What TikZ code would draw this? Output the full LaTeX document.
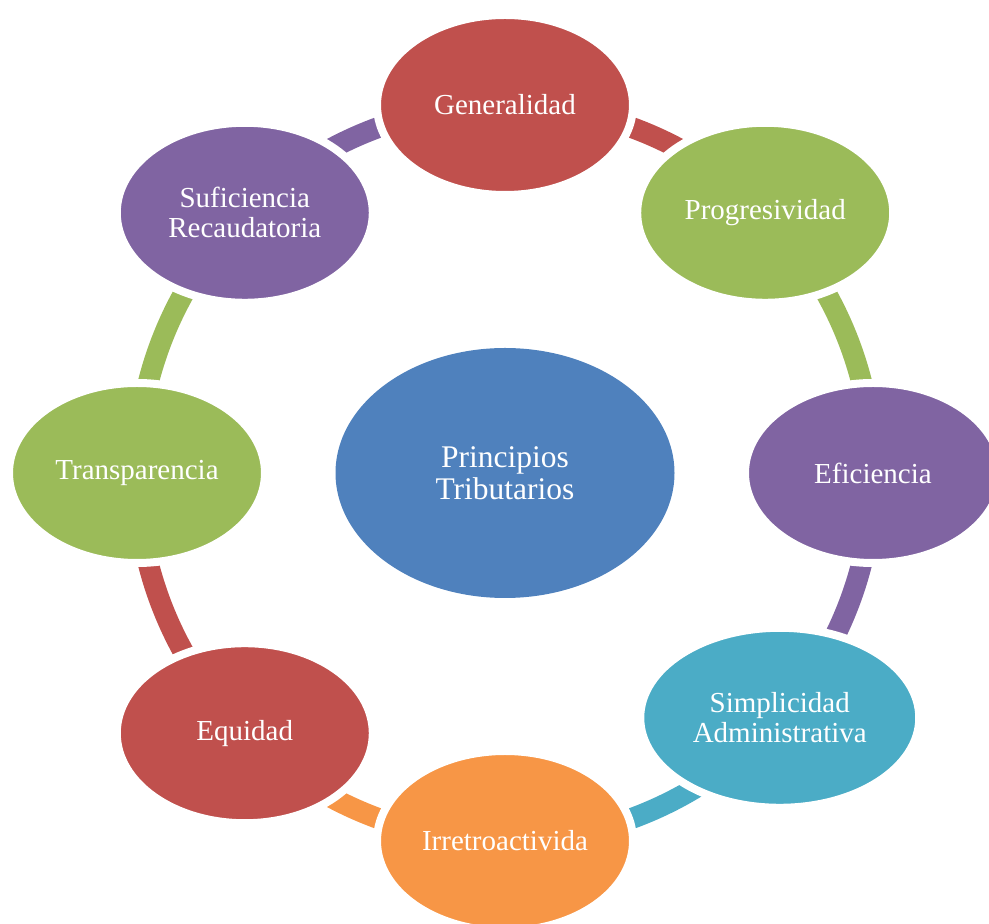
\documentclass[tikz,border=0pt]{standalone}
\usepackage{fontspec}
\setmainfont{Liberation Serif}
\usetikzlibrary{shapes.geometric,calc}
\definecolor{cred}{HTML}{C0504D}
\definecolor{cgreen}{HTML}{9BBB59}
\definecolor{cpurple}{HTML}{8064A2}
\definecolor{cteal}{HTML}{4BACC6}
\definecolor{corange}{HTML}{F79646}
\definecolor{cblue}{HTML}{4F81BD}
\begin{document}
\begin{tikzpicture}[x=1pt,y=1pt,
  item/.style={ellipse, draw=white, line width=8pt, minimum width=256pt, minimum height=180pt,
    inner sep=0pt, text=white, align=center, font=\fontsize{29}{30}\selectfont},
  band/.style={line width=21pt, line cap=butt}]
\useasboundingbox (0,0) rectangle (989,924);
\coordinate (C) at (505,451);
% nodes positions
\coordinate (pgen) at ($(C)+(90:368)$);
\coordinate (ppro) at ($(C)+(45:368)$);
\coordinate (pefi) at ($(C)+(0:368)$);
\coordinate (psim) at ($(C)+(-41.7:368)$);
\coordinate (pirr) at ($(C)+(-90:368)$);
\coordinate (pequ) at ($(C)+(-135:368)$);
\coordinate (ptra) at ($(C)+(180:368)$);
\coordinate (psuf) at ($(C)+(135:368)$);
% connecting bands
\draw[band, cred] (pgen) arc[start angle=90, end angle=45, radius=368];
\draw[band, cgreen] (ppro) arc[start angle=45, end angle=0, radius=368];
\draw[band, cpurple] (pefi) arc[start angle=0, end angle=-41.7, radius=368];
\draw[band, cteal] (psim) arc[start angle=-41.7, end angle=-90, radius=368];
\draw[band, corange] (pirr) arc[start angle=-90, end angle=-135, radius=368];
\draw[band, cred] (pequ) arc[start angle=-135, end angle=-180, radius=368];
\draw[band, cgreen] (ptra) arc[start angle=180, end angle=135, radius=368];
\draw[band, cpurple] (psuf) arc[start angle=135, end angle=90, radius=368];
% outer nodes
\node[item, fill=cred] (gen) at (pgen) {Generalidad};
\node[item, fill=cgreen] (pro) at (ppro) {Progresividad};
\node[item, fill=cpurple] (efi) at (pefi) {Eficiencia};
\node[item, fill=cteal, minimum width=279pt] (sim) at (psim) {Simplicidad\\Administrativa};
\node[item, fill=corange] (irr) at (pirr) {Irretroactivida};
\node[item, fill=cred] (equ) at (pequ) {Equidad};
\node[item, fill=cgreen] (tra) at (ptra) {Transparencia};
\node[item, fill=cpurple] (suf) at (psuf) {Suficiencia\\Recaudatoria};
% center
\node[ellipse, fill=cblue, minimum width=339pt, minimum height=250pt, inner sep=0pt,
  text=white, align=center, font=\fontsize{31.5}{32}\selectfont] (ctr) at (C) {Principios\\Tributarios};
\end{tikzpicture}
\end{document}
